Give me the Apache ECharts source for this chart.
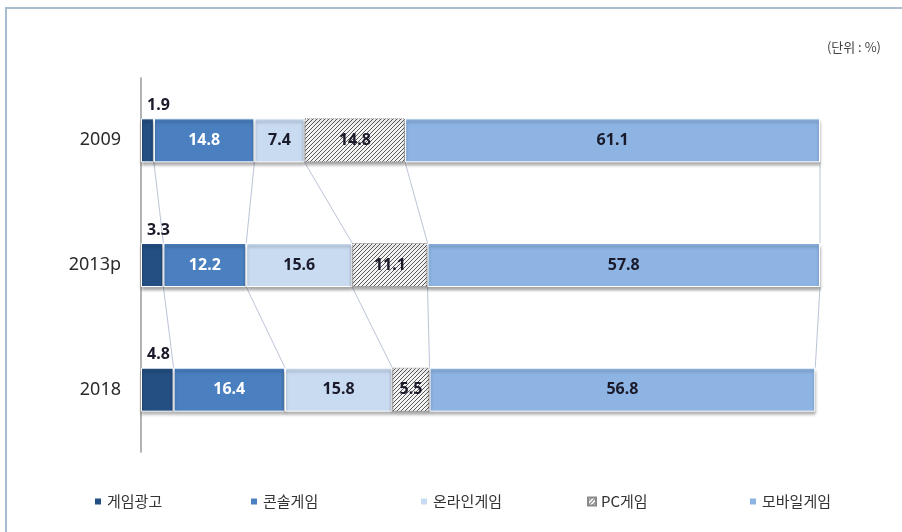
<!DOCTYPE html>
<html>
<head>
<meta charset="utf-8">
<script src="https://cdn.jsdelivr.net/npm/echarts@6/dist/echarts.min.js"></script>
<style>
  html, body { margin: 0; padding: 0; background: #fff; }
  #chart { width: 902px; height: 532px; }
</style>
</head>
<body>
<div id="chart"></div>
<script>
// 연도별 게임 광고/플랫폼 비중 (단위: %)
const years = ['2009', '2013p', '2018'];
const seriesNames = ['게임광고', '콘솔게임', '온라인게임', 'PC게임', '모바일게임'];
const adValues = [1.9, 3.3, 4.8];
const consoleValues = [14.8, 12.2, 16.4];
const onlineValues = [7.4, 15.6, 15.8];
const pcValues = [14.8, 11.1, 5.5];
const mobileValues = [61.1, 57.8, 56.8];

const allValues = [adValues, consoleValues, onlineValues, pcValues, mobileValues];
const colors = ['#234f82', '#4a7fc0', '#c9dbf1', null, '#8db4e3'];
const BAR_W = 44;

// 빗금 패턴 (PC게임)
function makeHatch() {
  const s = 4;
  const c = document.createElement('canvas');
  c.width = s; c.height = s;
  const ctx = c.getContext('2d');
  ctx.fillStyle = '#f4f4f4';
  ctx.fillRect(0, 0, s, s);
  ctx.strokeStyle = '#444444';
  ctx.lineWidth = 0.9;
  ctx.beginPath();
  ctx.moveTo(0, s); ctx.lineTo(s, 0);
  ctx.moveTo(-1, 1); ctx.lineTo(1, -1);
  ctx.moveTo(s - 1, s + 1); ctx.lineTo(s + 1, s - 1);
  ctx.stroke();
  return c;
}
const hatch = { image: makeHatch(), repeat: 'repeat' };

// 구간 경계 누적값 (연결선용)
const cumulative = years.map((_, i) => {
  let sum = 0;
  return allValues.map(arr => (sum += arr[i]));
});
const connectorData = [];
for (let i = 0; i < years.length - 1; i++) {
  for (let k = 0; k < seriesNames.length; k++) {
    connectorData.push([cumulative[i][k], i, cumulative[i + 1][k]]);
  }
}

const chart = echarts.init(document.getElementById('chart'));

const barSeries = seriesNames.map((name, idx) => {
  const isPc = idx === 3;
  const label = {
    show: true,
    fontSize: 16,
    fontWeight: 'bold',
    fontFamily: 'Noto Sans',
    color: idx === 1 ? '#ffffff' : '#1a1a2a',
    position: 'inside'
  };
  if (idx === 0) {
    label.position = [6, -13];
    label.verticalAlign = 'middle';
  }
  return {
    name: name,
    type: 'bar',
    stack: 'total',
    barWidth: BAR_W,
    data: allValues[idx],
    label: label,
    itemStyle: {
      color: isPc ? hatch : colors[idx],
      borderColor: isPc ? '#8a8a8a' : '#ffffff',
      borderWidth: 1,
      borderType: isPc ? 'dotted' : 'solid',
      shadowColor: 'rgba(0,0,0,0.35)',
      shadowBlur: 3,
      shadowOffsetY: 3
    },
    emphasis: { disabled: true },
    z: 3
  };
});

const connectorSeries = {
  type: 'custom',
  silent: true,
  z: 1,
  data: connectorData,
  encode: { x: [0, 2], y: 1 },
  renderItem: function (params, api) {
    const top = api.coord([api.value(0), api.value(1)]);
    const bot = api.coord([api.value(2), api.value(1) + 1]);
    return {
      type: 'line',
      shape: {
        x1: top[0], y1: top[1] + BAR_W / 2,
        x2: bot[0], y2: bot[1] - BAR_W / 2
      },
      style: { stroke: '#aab4cc', lineWidth: 0.8 }
    };
  }
};

const legendLeft = [88, 244, 414, 582, 743];
const legends = seriesNames.map((name, idx) => ({
  data: [name],
  left: legendLeft[idx],
  top: 489,
  itemWidth: 8,
  itemHeight: 8,
  itemGap: 5,
  icon: 'rect',
  selectedMode: false,
  textStyle: {
    fontSize: 15,
    color: '#333',
    fontFamily: 'Noto Sans CJK KR'
  }
}));

chart.setOption({
  animation: false,
  backgroundColor: '#ffffff',
  title: {
    text: '(단위 : %)',
    right: 16,
    top: 36,
    textStyle: {
      fontSize: 13,
      fontWeight: 'normal',
      color: '#444',
      fontFamily: 'Noto Sans CJK KR'
    }
  },
  graphic: [{
    type: 'rect',
    shape: { x: 6, y: 8, width: 1000, height: 600 },
    style: { fill: 'none', stroke: '#a7bccf', lineWidth: 2 },
    silent: true
  }],
  legend: legends,
  grid: { left: 141, right: 82, top: 78, bottom: 80 },
  xAxis: {
    type: 'value',
    min: 0,
    max: 100,
    show: false
  },
  yAxis: {
    type: 'category',
    data: years,
    inverse: true,
    axisLine: { show: true, lineStyle: { color: '#9a9a9a', width: 1.5 } },
    axisTick: { show: false },
    axisLabel: {
      fontSize: 18,
      color: '#2a2a2a',
      margin: 20,
      fontFamily: 'Noto Sans'
    }
  },
  series: barSeries.concat([connectorSeries])
});
</script>
</body>
</html>
